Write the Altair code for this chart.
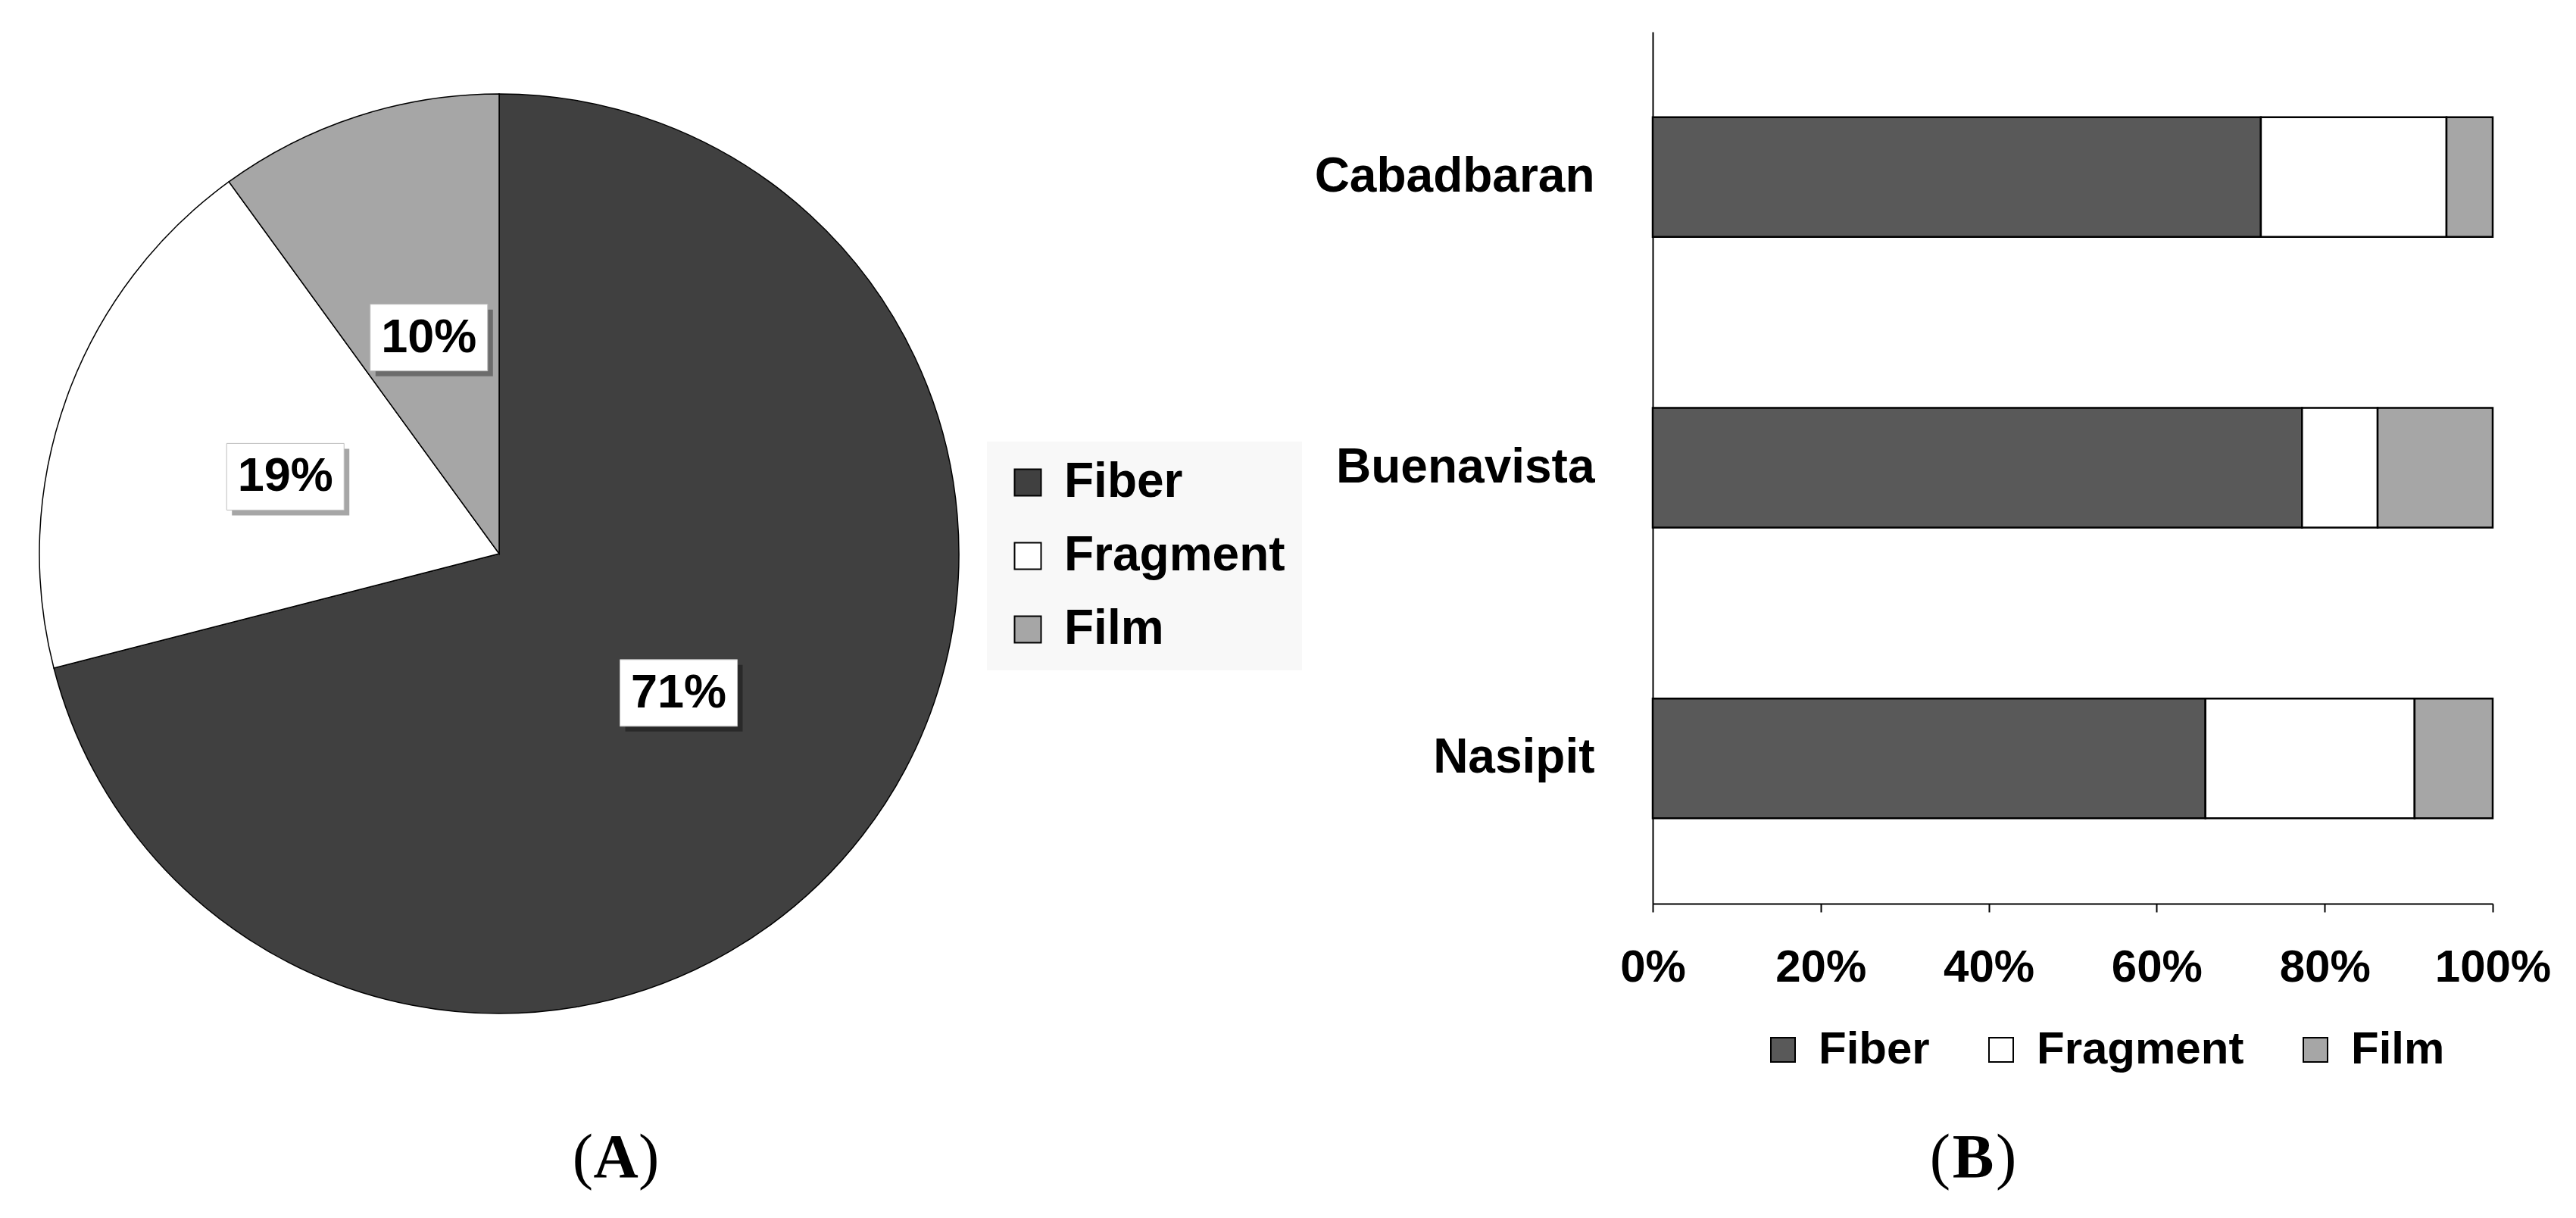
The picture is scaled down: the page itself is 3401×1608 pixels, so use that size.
import altair as alt
import pandas as pd

# ---------------- data ----------------
pie_types = ["Fiber", "Fragment", "Film"]
pie_values = [71, 19, 10]
pie_colors = ["#404040", "#ffffff", "#a6a6a6"]

sites = ["Cabadbaran", "Buenavista", "Nasipit"]
fiber_pct = [72.4, 77.3, 65.8]
fragment_pct = [22.1, 9.0, 24.9]
film_pct = [5.5, 13.7, 9.3]
bar_colors = ["#595959", "#ffffff", "#a6a6a6"]

x_ticks = [0, 0.2, 0.4, 0.6, 0.8, 1.0]
captions = ["A", "B"]

FONT = "Liberation Sans"
SERIF = "Liberation Serif"

# ---------------- layout ----------------
PIE_W, PANEL_H = 1702, 1151
CX, CY, R = 651, 689, 607
LAB_R = 300
BOX_W, BOX_H = 155, 88
SH = 7
BAR_W = 1109
CAP_Y = 1512
CAP_SIZE = 82

NO_VIEW = alt.ViewBackground(stroke=None, strokeWidth=0)

pie_df = pd.DataFrame({"type": pie_types, "value": pie_values,
                       "order": list(range(len(pie_types)))})

rows = []
for i, s in enumerate(sites):
    for j, (t, arr) in enumerate(zip(pie_types, [fiber_pct, fragment_pct, film_pct])):
        rows.append({"site": s, "type": t, "value": arr[i], "order": j})
bar_df = pd.DataFrame(rows)

# ---------------- pie panel ----------------
arc = alt.Chart(pie_df).mark_arc(radius=R, stroke="black", strokeWidth=1.5).encode(
    theta=alt.Theta("value:Q", stack=True),
    order=alt.Order("order:Q"),
    color=alt.Color("type:N", sort=pie_types,
                    scale=alt.Scale(domain=pie_types, range=pie_colors),
                    legend=alt.Legend(title=None, orient="none", legendX=1295, legendY=541,
                                      fillColor="#f8f8f8", padding=22, rowPadding=33,
                                      symbolType="square", symbolSize=1225,
                                      symbolStrokeColor="black", symbolStrokeWidth=2,
                                      labelFont=FONT, labelFontSize=64, labelFontWeight="bold",
                                      labelColor="black", labelOffset=16, labelLimit=1000)),
    x=alt.value(CX), y=alt.value(CY),
)

lab = alt.Chart(pie_df).transform_window(
    cum="sum(value)", sort=[alt.SortField("order")]
).transform_joinaggregate(total="sum(value)").transform_calculate(
    mid="(datum.cum - datum.value/2)/datum.total*2*PI",
    lx=f"{CX} + {LAB_R}*sin(datum.mid)",
    ly=f"{CY} - {LAB_R}*cos(datum.mid)",
    label="datum.value + '%'",
).transform_calculate(
    bx1=f"datum.lx - {BOX_W/2}", bx2=f"datum.lx + {BOX_W/2}",
    by1=f"datum.ly - {BOX_H/2}", by2=f"datum.ly + {BOX_H/2}",
).transform_calculate(
    sx1=f"datum.bx1 + {SH}", sx2=f"datum.bx2 + {SH}",
    sy1=f"datum.by1 + {SH}", sy2=f"datum.by2 + {SH}",
)

shadow = lab.mark_rect(color="black", opacity=0.35).encode(
    x=alt.X("sx1:Q", scale=None, axis=None), x2="sx2:Q",
    y=alt.Y("sy1:Q", scale=None, axis=None), y2="sy2:Q",
)
box = lab.mark_rect(color="white", stroke="#bfbfbf", strokeWidth=1).encode(
    x=alt.X("bx1:Q", scale=None, axis=None), x2="bx2:Q",
    y=alt.Y("by1:Q", scale=None, axis=None), y2="by2:Q",
)
txt = lab.mark_text(font=FONT, fontSize=63, fontWeight="bold", color="black",
                    align="center", baseline="middle").encode(
    x=alt.X("lx:Q", scale=None, axis=None),
    y=alt.Y("ly:Q", scale=None, axis=None),
    text="label:N",
)


def caption(letter, cx):
    d = pd.DataFrame({"c": [letter]})
    half = 30
    mid = alt.Chart(d).mark_text(font=SERIF, fontSize=CAP_SIZE, fontWeight="bold",
                                 color="black", align="center", baseline="alphabetic").encode(
        x=alt.value(cx), y=alt.value(CAP_Y), text="c:N")
    lp = alt.Chart(d).mark_text(font=SERIF, fontSize=CAP_SIZE, color="black",
                                align="right", baseline="alphabetic").encode(
        x=alt.value(cx - half), y=alt.value(CAP_Y), text=alt.value("("))
    rp = alt.Chart(d).mark_text(font=SERIF, fontSize=CAP_SIZE, color="black",
                                align="left", baseline="alphabetic").encode(
        x=alt.value(cx + half), y=alt.value(CAP_Y), text=alt.value(")"))
    return [lp, mid, rp]


left = alt.layer(arc, shadow, box, txt, *caption(captions[0], 805)).properties(
    width=PIE_W, height=PANEL_H, view=NO_VIEW)

# ---------------- bar panel ----------------
bars = alt.Chart(bar_df).mark_bar(stroke="black", strokeWidth=2.5).encode(
    y=alt.Y("site:N", sort=sites,
            scale=alt.Scale(paddingInner=0.588, paddingOuter=0.294),
            axis=alt.Axis(title=None, domain=True, domainColor="black", domainWidth=2,
                          ticks=False, labelFont=FONT, labelFontSize=64,
                          labelFontWeight="bold", labelColor="black",
                          labelPadding=77, labelLimit=1000)),
    x=alt.X("value:Q", stack="normalize", scale=alt.Scale(domain=[0, 1]),
            axis=alt.Axis(title=None, values=x_ticks, format="%", grid=False,
                          domainColor="black", domainWidth=2, tickColor="black",
                          tickWidth=2, tickSize=11, labelFont=FONT, labelFontSize=60,
                          labelFontWeight="bold", labelColor="black", labelPadding=44,
                          labelFlush=False)),
    color=alt.Color("type:N", sort=pie_types,
                    scale=alt.Scale(domain=pie_types, range=bar_colors),
                    legend=alt.Legend(title=None, orient="none", direction="horizontal",
                                      legendX=142, legendY=1314, padding=0,
                                      columnPadding=64, symbolType="square",
                                      symbolSize=1024, symbolStrokeColor="black",
                                      symbolStrokeWidth=2, labelFont=FONT,
                                      labelFontSize=60, labelFontWeight="bold",
                                      labelColor="black", labelOffset=17,
                                      labelLimit=1000)),
    order=alt.Order("order:Q"),
)

right = alt.layer(bars, *caption(captions[1], 423)).properties(
    width=BAR_W, height=PANEL_H, view=NO_VIEW)

chart = alt.hconcat(left, right, spacing=16).resolve_scale(
    color="independent").resolve_legend(color="independent").properties(
    padding={"left": 0, "top": 34, "right": 0, "bottom": 30}, background="white"
).configure_view(stroke=None, strokeWidth=0).configure(font=FONT)

chart.save("out.html", embed_options={"renderer": "svg", "actions": False})
